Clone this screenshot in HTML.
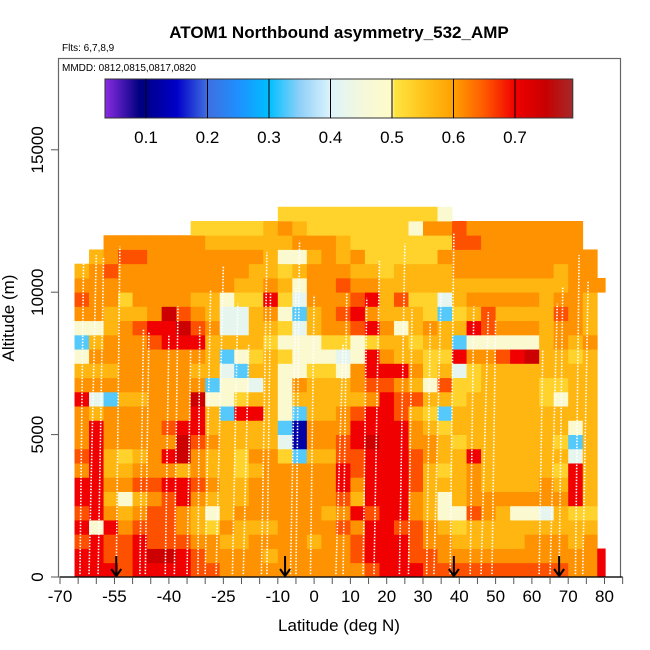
<!DOCTYPE html>
<html><head><meta charset="utf-8"><style>
html,body{margin:0;padding:0;background:#fff;}
svg{display:block;font-family:"Liberation Sans",sans-serif;}
</style></head><body>
<svg id="chart" width="650" height="650" viewBox="0 0 650 650" xmlns="http://www.w3.org/2000/svg">
<defs><linearGradient id="cbgrad" x1="0" x2="1" y1="0" y2="0"></linearGradient></defs>
<text x="339" y="38" text-anchor="middle" font-size="17" font-weight="bold">ATOM1 Northbound asymmetry_532_AMP</text>
<text x="62" y="51" font-size="10">Flts: 6,7,8,9</text>
<g id="heat"></g>
<g id="tracks"></g>
<g id="arrows"></g>
<rect x="58.5" y="58.5" width="562" height="518.5" fill="none" stroke="#666" stroke-width="1.2"/>
<text x="62" y="71" font-size="10">MMDD: 0812,0815,0817,0820</text>
<g id="cbar"></g>
<g id="xaxis"></g>
<g id="yaxis"></g>
<text x="339" y="631" text-anchor="middle" font-size="17">Latitude (deg N)</text>
<text transform="translate(14,318) rotate(-90)" text-anchor="middle" font-size="17">Altitude (m)</text>
</svg>
<script>
// ---- data ----
const colLatStart = -66, colLatStep = 4;
const rowAltStep = 500;
// digit code -> asymmetry value
const codeValues = [0.12,0.33,0.42,0.48,0.53,0.57,0.61,0.655,0.70,0.745];
// rows from 0 m upward (37 columns each, in 4 segments); '.' = no data
const rows = [
"8887888877"+"6666666666"+"7888777777"+"7777668",
"8877899876"+"6665666667"+"8887766666"+"6666668",
"7877877766"+"5566665667"+"8887665555"+"566656.",
"8386777654"+"6555666676"+"8877654555"+"555555.",
"7865677653"+"5666666568"+"7886533765"+"332544.",
"8853567865"+"5566666675"+"8886535666"+"666685.",
"8866778876"+"5566666686"+"8887555655"+"556585.",
"6855666565"+"5456666687"+"8887545655"+"555485.",
"7854568965"+"5466415577"+"8887655855"+"555525.",
"6866666976"+"5555206678"+"9886654555"+"555415.",
"6866667885"+"5555106668"+"8886545555"+"555535.",
"6566666685"+"1885315567"+"8875415555"+"555555.",
"8215566693"+"3455355555"+"6877554555"+"554355.",
"6666666661"+"3325365556"+"7765374455"+"554455.",
"5556666655"+"2155334436"+"8886452455"+"555555.",
"3666666665"+"1345433323"+"8655448667"+"895545.",
"1566678885"+"5554333443"+"4554551333"+"335656.",
"3356788976"+"2255425667"+"8635655876"+"665665.",
"6655569765"+"2256315678"+"6555414575"+"555765.",
"7664666655"+"3448426667"+"8574425666"+"665665.",
"6666666666"+"6556536676"+"6555555555"+"5555666",
"5676666666"+"6655456665"+"5455556666"+"666566.",
".567766666"+"6665335656"+"4444466666"+"666666.",
"..66666665"+"5555566654"+"4444447766"+"66666..",
"........44"+"4445654444"+"4443667666"+"66666..",
".........."+"....444444"+"444443...."+"......."
];
// flight profile tracks: bottom latitude, top latitude, top altitude (m)
const trackLatBottom = [-64.5,-62,-59.5,-54.5,-48,-46.5,-41,-38.5,-35,-32,-30,-27,-22.5,-19.5,-14.5,-13,-6.5,-5,-1,6,8,13.5,16.5,23.5,26,31,33,37.5,43,46,49,62,65,67.5,72,74];
const trackLatTop    = [-63.5,-60,-58,-53.5,-47,-45.5,-40,-37.5,-34,-31.5,-28.5,-25,-21,-18,-13,-12,-5,-4,0,8,9,14.5,18,25,27,32,35,38.5,44,48,50,63,67,68.5,73,75.5];
const trackTopAlt    = [11200,11300,11200,11600,8700,8600,8500,9500,8000,8800,10100,10900,9600,8200,11400,10000,10200,11800,9900,8200,10000,9800,11100,11700,9400,8900,10000,12100,9500,9300,9000,8000,9600,10200,11300,10400];
const arrowLats = [-54.5,-8,38.5,67.5];
const cbValues = [0.033,0.09,0.15,0.2,0.25,0.3,0.35,0.4,0.45,0.499,0.505,0.55,0.6,0.65,0.7,0.75,0.794];
const cbColors = ["#8a2be2","#000080","#0000c8","#3f6fe0","#1e90ff","#00bfff","#8fd0f8","#dcf4fc","#f4f8dc","#fffac8","#ffe440","#ffc41c","#ffa000","#ff5a00","#f00000","#c80000","#a52a2a"];
const cbTicks = [0.1,0.2,0.3,0.4,0.5,0.6,0.7];
const xTicks = [-70,-65,-60,-55,-50,-45,-40,-35,-30,-25,-20,-15,-10,-5,0,5,10,15,20,25,30,35,40,45,50,55,60,65,70,75,80,85];
const xLabels = [-70,-55,-40,-25,-10,0,10,20,30,40,50,60,70,80];
const yTicks = [0,5000,10000,15000];

// ---- scales ----
const X = lat => 60 + (lat + 70) * 3.63;
const Y = alt => 577 - alt * 0.02848;
const CB = v => 146 + (v - 0.1) * 615;
function hex2rgb(h){return [1,3,5].map(i=>parseInt(h.substr(i,2),16));}
function colorOf(v){
  if(v<=cbValues[0]) return cbColors[0];
  for(let i=1;i<cbValues.length;i++){
    if(v<=cbValues[i]){
      const t=(v-cbValues[i-1])/(cbValues[i]-cbValues[i-1]);
      const a=hex2rgb(cbColors[i-1]), b=hex2rgb(cbColors[i]);
      return "rgb("+a.map((c,k)=>Math.round(c+(b[k]-c)*t)).join(",")+")";
    }
  }
  return cbColors[cbColors.length-1];
}
const NS="http://www.w3.org/2000/svg";
function mk(tag, attrs, parent){const e=document.createElementNS(NS,tag);for(const k in attrs)e.setAttribute(k,attrs[k]);parent.appendChild(e);return e;}

// heatmap
const heat=document.getElementById('heat');
rows.forEach((row,r)=>{
  for(let c=0;c<row.length;c++){
    const ch=row[c]; if(ch==='.') continue;
    const v=codeValues[+ch];
    const lat0=colLatStart+c*colLatStep, lat1=Math.min(lat0+colLatStep,80.2);
    const x0=X(lat0), x1=X(lat1), y0=Y((r+1)*rowAltStep), y1=Y(r*rowAltStep);
    const el=mk('rect',{x:x0.toFixed(2),y:y0.toFixed(2),width:(x1-x0+0.4).toFixed(2),height:(y1-y0+0.4).toFixed(2),fill:colorOf(v)},heat);
    
    
  }
});

// tracks
const tr=document.getElementById('tracks');
trackLatBottom.forEach((lb,i)=>{
  const el=mk('line',{x1:X(lb),y1:Y(100),x2:X(trackLatTop[i]),y2:Y(trackTopAlt[i]),stroke:"#fff","stroke-width":1.6,"stroke-dasharray":"1.5 1.5"},tr);
  
  
});

// arrows
const ar=document.getElementById('arrows');
arrowLats.forEach(l=>{
  const x=X(l);
  const g=mk('g',{},ar);
  
  
  mk('line',{x1:x,y1:556,x2:x,y2:576,stroke:"#000","stroke-width":2},g);
  mk('polyline',{points:`${x-5},${569} ${x},${576} ${x+5},${569}`,fill:"none",stroke:"#000","stroke-width":2},g);
});

// colorbar
const grad=document.getElementById('cbgrad');
const cbx0=CB(0.0333), cbx1=CB(0.794);
cbValues.forEach((v,i)=>{mk('stop',{offset:((CB(v)-cbx0)/(cbx1-cbx0)).toFixed(4),"stop-color":cbColors[i]},grad);});
const cb=document.getElementById('cbar');
const cbRect=mk('rect',{x:cbx0,y:79,width:cbx1-cbx0,height:39,fill:"url(#cbgrad)",stroke:"#333","stroke-width":1},cb);


cbTicks.forEach(t=>{
  mk('line',{x1:CB(t),y1:79,x2:CB(t),y2:118,stroke:"#000","stroke-width":1},cb);
  const tx=mk('text',{x:CB(t),y:143,"text-anchor":"middle","font-size":17},cb);
  tx.textContent=t.toFixed(1);
  
  
});

// x axis
const xa=document.getElementById('xaxis');
mk('line',{x1:X(-70),y1:577,x2:X(85),y2:577,stroke:"#000","stroke-width":1.3},xa);
xTicks.forEach(t=>{mk('line',{x1:X(t),y1:577,x2:X(t),y2:584,stroke:"#555","stroke-width":1},xa);});
xLabels.forEach(t=>{
  const tx=mk('text',{x:X(t),y:602,"text-anchor":"middle","font-size":17},xa);
  tx.textContent=String(t);
  
  
});
// y axis
const ya=document.getElementById('yaxis');
yTicks.forEach(t=>{
  mk('line',{x1:51,y1:Y(t),x2:58,y2:Y(t),stroke:"#555","stroke-width":1},ya);
  const tx=mk('text',{transform:`translate(43,${Y(t)}) rotate(-90)`,"text-anchor":"middle","font-size":17},ya);
  tx.textContent=String(t);
  
  
});
</script>
</body></html>
